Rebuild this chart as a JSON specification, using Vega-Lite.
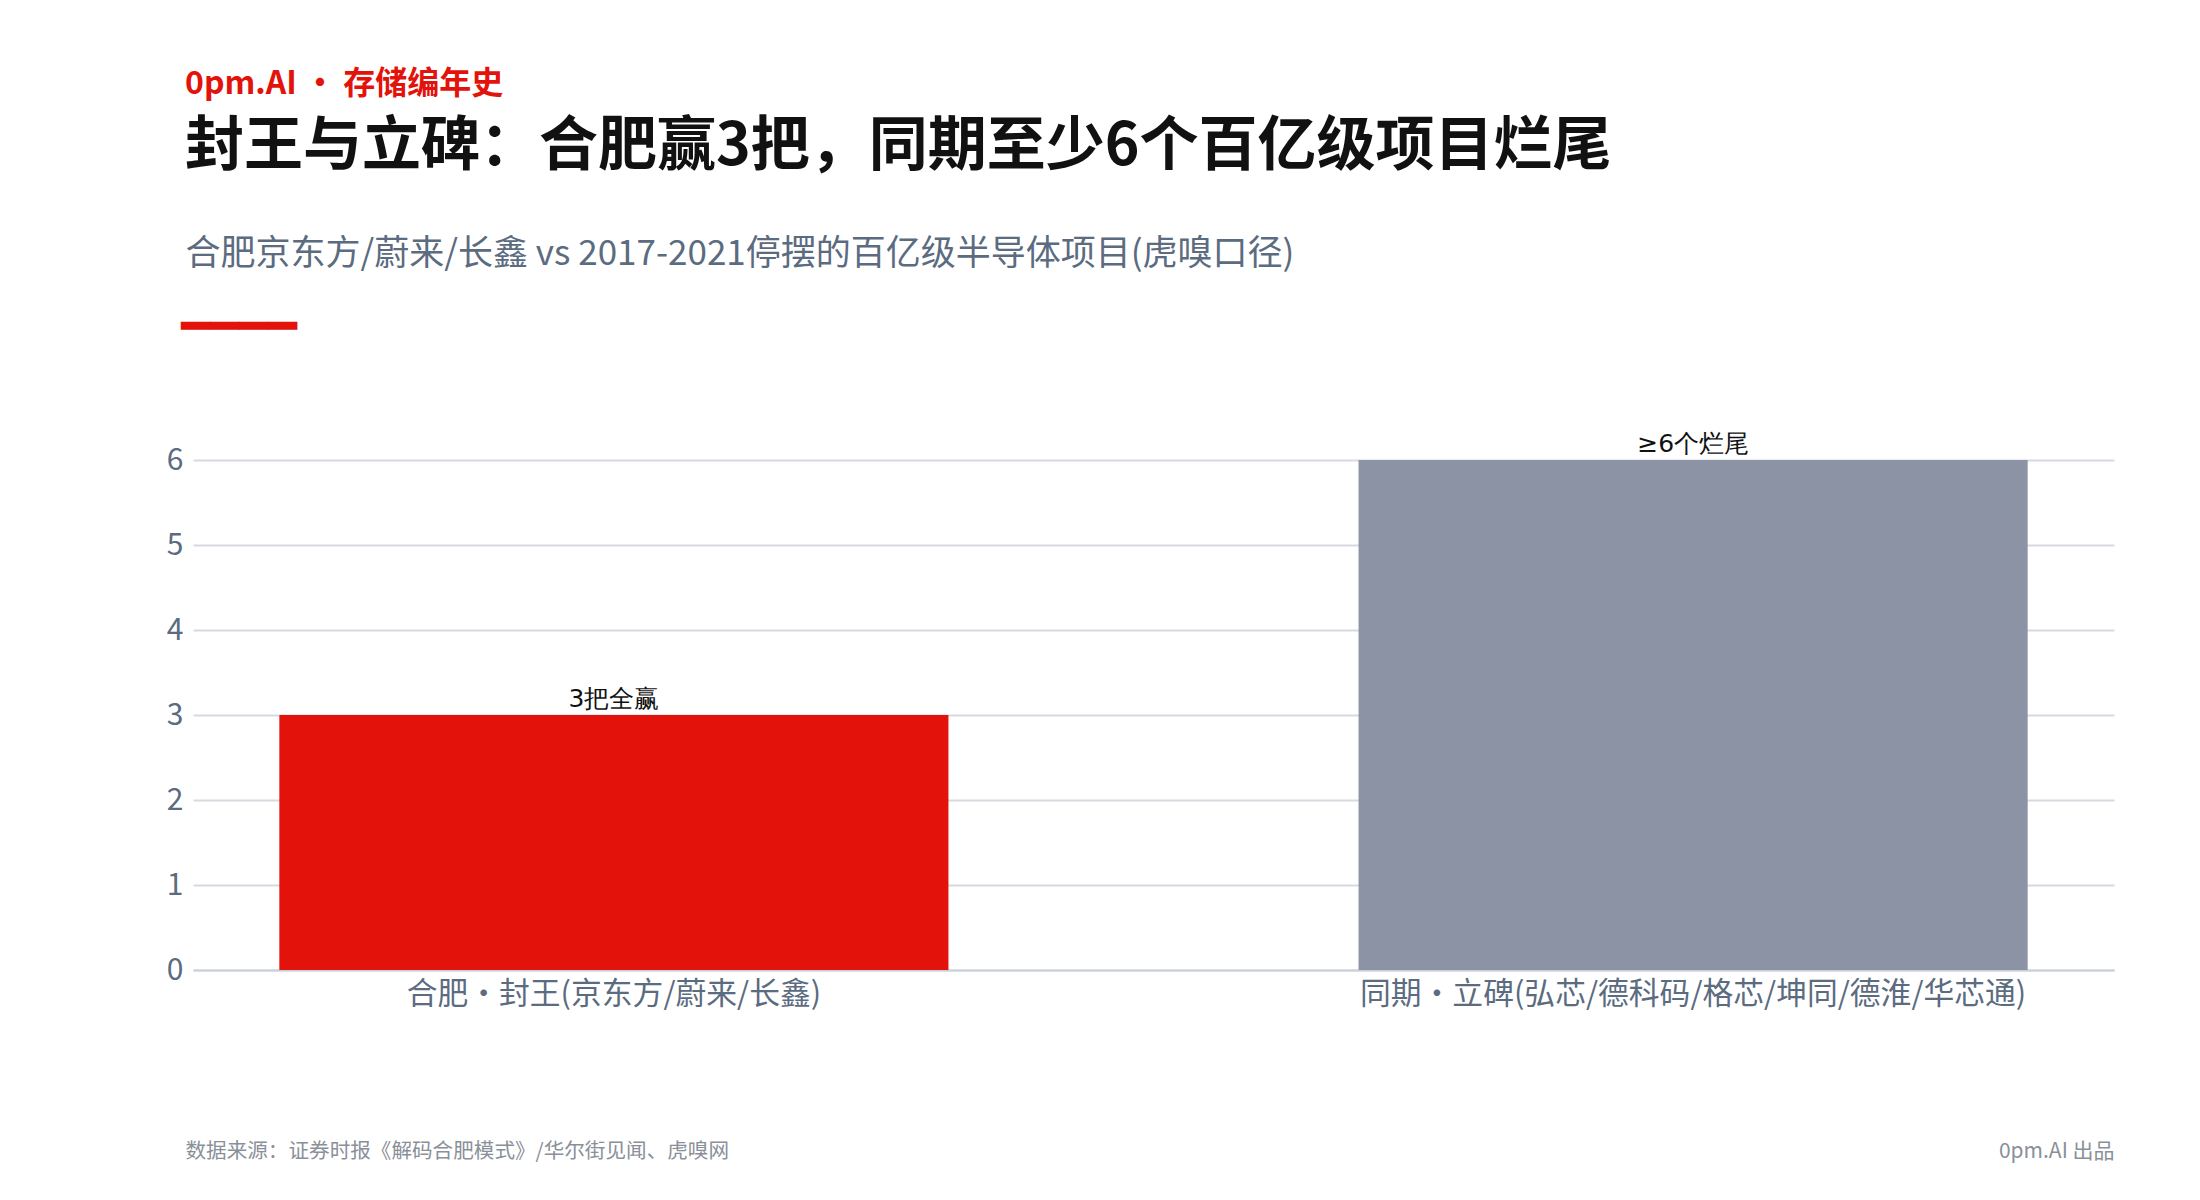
{
  "$schema": "https://vega.github.io/schema/vega-lite/v6.json",
  "width": 1921,
  "height": 510,
  "padding": {"left": 166, "top": 68, "right": 60, "bottom": 10},
  "background": "white",
  "title": {
    "text": "0pm.AI · 存储编年史",
    "subtitle": "封王与立碑：合肥赢3把，同期至少6个百亿级项目烂尾",
    "anchor": "start",
    "frame": "group",
    "dx": -8,
    "font": "Noto Sans CJK SC",
    "fontSize": 32,
    "fontWeight": "bold",
    "color": "#E3120B",
    "subtitleFont": "Noto Sans CJK SC",
    "subtitleFontSize": 59,
    "subtitleFontWeight": "bold",
    "subtitleColor": "#111111",
    "subtitlePadding": 17,
    "offset": 58
  },
  "data": {
    "values": [
      {"group": "合肥・封王(京东方/蔚来/长鑫)", "count": 3, "label": "3把全赢", "kind": "hefei"},
      {"group": "同期・立碑(弘芯/德科码/格芯/坤同/德淮/华芯通)", "count": 6, "label": "≥6个烂尾", "kind": "stalled"}
    ]
  },
  "layer": [
    {
      "mark": {"type": "bar"},
      "encoding": {
        "x": {
          "field": "group",
          "type": "nominal",
          "sort": null,
          "scale": {"paddingInner": 0.38, "paddingOuter": 0.08},
          "axis": {
            "orient": "bottom",
            "title": "数据来源：证券时报《解码合肥模式》/华尔街见闻、虎嗅网",
            "labelAngle": 0,
            "labelFont": "Noto Sans CJK SC",
            "labelFontSize": 30.8,
            "labelColor": "#5B6B80",
            "labelPadding": 9,
            "labelLimit": 1200,
            "ticks": false,
            "domain": true,
            "domainColor": "#C9D0D9",
            "domainWidth": 2,
            "titleFont": "Noto Sans CJK SC",
            "titleFontSize": 20.6,
            "titleFontWeight": "normal",
            "titleColor": "#8A9099",
            "titleAlign": "left",
            "titleAnchor": "start",
            "titleBaseline": "middle",
            "titleX": -8,
            "titleY": 181,
            "titleLimit": 2000
          }
        },
        "y": {
          "field": "count",
          "type": "quantitative",
          "scale": {"domain": [0, 6], "nice": false},
          "axis": {
            "orient": "left",
            "title": "合肥京东方/蔚来/长鑫 vs 2017-2021停摆的百亿级半导体项目(虎嗅口径)",
            "values": [0, 1, 2, 3, 4, 5, 6],
            "grid": true,
            "gridColor": "#D5DAE1",
            "gridWidth": 2,
            "domain": false,
            "ticks": false,
            "labelFont": "Noto Sans CJK SC",
            "labelFontSize": 30,
            "labelColor": "#5B6B80",
            "labelPadding": 10,
            "titleFont": "Noto Sans CJK SC",
            "titleFontSize": 35,
            "titleFontWeight": "normal",
            "titleColor": "#5B6B80",
            "titleAngle": 0,
            "titleAlign": "left",
            "titleBaseline": "middle",
            "titleX": -8,
            "titleY": -207,
            "titleLimit": 2000
          }
        },
        "color": {
          "field": "kind",
          "type": "nominal",
          "scale": {"domain": ["hefei", "stalled"], "range": ["#E3120B", "#8B93A5"]},
          "legend": null
        }
      }
    },
    {
      "mark": {"type": "text", "baseline": "bottom", "dy": -3, "font": "DejaVu Sans", "fontSize": 25, "color": "#111111"},
      "encoding": {
        "x": {
          "field": "group",
          "type": "nominal",
          "sort": null,
          "axis": {
            "orient": "top",
            "title": "━━━━",
            "labels": false,
            "ticks": false,
            "domain": false,
            "grid": false,
            "titleFont": "DejaVu Sans Mono",
            "titleFontSize": 48,
            "titleFontWeight": "normal",
            "titleColor": "#E3120B",
            "titleAlign": "left",
            "titleBaseline": "middle",
            "titleX": -12,
            "titleY": -133
          }
        },
        "y": {
          "field": "count",
          "type": "quantitative",
          "axis": {
            "orient": "right",
            "title": "0pm.AI 出品",
            "labels": false,
            "ticks": false,
            "domain": false,
            "grid": false,
            "titleFont": "Noto Sans CJK SC",
            "titleFontSize": 21,
            "titleFontWeight": "normal",
            "titleColor": "#8A9099",
            "titleAngle": 0,
            "titleAlign": "right",
            "titleBaseline": "middle",
            "titleX": 0,
            "titleY": 691
          }
        },
        "text": {"field": "label", "type": "nominal"}
      }
    }
  ],
  "resolve": {"axis": {"x": "independent", "y": "independent"}},
  "config": {"view": {"stroke": null}}
}
